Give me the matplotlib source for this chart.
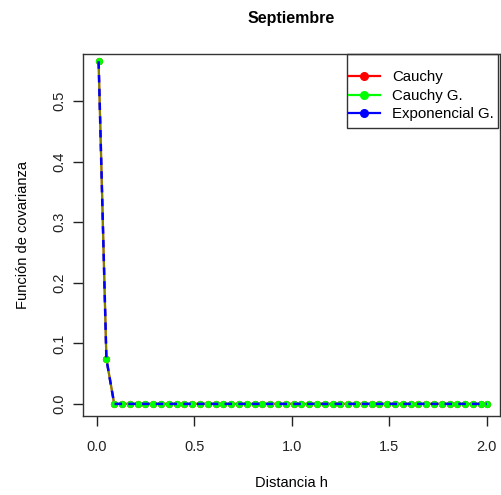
import numpy as np
import matplotlib.pyplot as plt
from matplotlib.lines import Line2D
from matplotlib.patches import Rectangle

# distancias h y covarianzas estimadas (septiembre)
h = [0.01, 0.05, 0.09, 0.13, 0.17, 0.21, 0.25, 0.29, 0.33, 0.37, 0.41, 0.45,
     0.49, 0.53, 0.57, 0.61, 0.65, 0.69, 0.73, 0.77, 0.81, 0.85, 0.89, 0.93,
     0.97, 1.01, 1.05, 1.09, 1.13, 1.17, 1.21, 1.25, 1.29, 1.33, 1.37, 1.41,
     1.45, 1.49, 1.53, 1.57, 1.61, 1.65, 1.69, 1.73, 1.77, 1.81, 1.85, 1.89,
     1.93, 1.97, 2.00]
cauchy = [0.566, 0.074] + [0.0] * 49
cauchy_g = [0.566, 0.074] + [0.0] * 49
expo_g = [0.566, 0.074] + [0.0] * 49

labels = ['Cauchy', 'Cauchy G.', 'Exponencial G.']
colors = ['#ff0000', '#00ff00', '#0000ff']

plt.rcParams['font.family'] = ['Liberation Sans', 'DejaVu Sans']

fig = plt.figure(figsize=(5.02, 4.95), dpi=100)
ax = fig.add_axes([83 / 502, 1 - 416 / 495, (500 - 83) / 502, (416 - 54) / 495])

ax.plot(h, cauchy, color=colors[0], lw=1.6, marker='o', ms=4.2, zorder=2)
ax.plot(h, cauchy_g, color=colors[1], lw=1.6, alpha=0.5, zorder=3)
ax.plot(h, cauchy_g, color=colors[1], lw=0, marker='o', ms=4.2, zorder=3)
ax.plot(h, expo_g, color=colors[2], lw=1.8, dashes=(3, 2.5), zorder=4)

ax.set_xlim(-0.07, 2.068)
ax.set_ylim(-0.02, 0.578)
ax.set_xticks([0.0, 0.5, 1.0, 1.5, 2.0])
ax.set_yticks([0.0, 0.1, 0.2, 0.3, 0.4, 0.5])
ax.set_xticklabels(['0.0', '0.5', '1.0', '1.5', '2.0'])
ax.set_yticklabels(['0.0', '0.1', '0.2', '0.3', '0.4', '0.5'], rotation=90, va='center')
ax.tick_params(axis='x', direction='out', length=7, width=1, labelsize=10.5, pad=10, colors='#222222')
ax.tick_params(axis='y', direction='out', length=7, width=1, labelsize=10.5, pad=5, colors='#222222')
for s in ax.spines.values():
    s.set_linewidth(1)
    s.set_color('#333333')

ax.set_title('Septiembre', fontsize=11.5, fontweight='bold', pad=22.5)
ax.set_xlabel('Distancia h', fontsize=10.5, labelpad=16)
ax.set_ylabel('Función de covarianza', fontsize=10.5, labelpad=16)

# legend box drawn by hand (R style: wide vertical padding, narrow side padding)
ax.add_patch(Rectangle((0.633, 0.796), 0.362, 0.204, transform=ax.transAxes,
                       fill=False, edgecolor='#333333', lw=1, zorder=5, clip_on=False))
handles = [Line2D([0], [0], color=c, lw=1.6, marker='o', ms=5.5) for c in colors]
leg = ax.legend(handles, labels, loc='upper left', bbox_to_anchor=(0.638, 0.955),
                fontsize=10.8, frameon=False, handlelength=2.05,
                borderpad=0, labelspacing=0.3, handletextpad=0.8, borderaxespad=0)

fig.savefig('out.png', dpi=100)
